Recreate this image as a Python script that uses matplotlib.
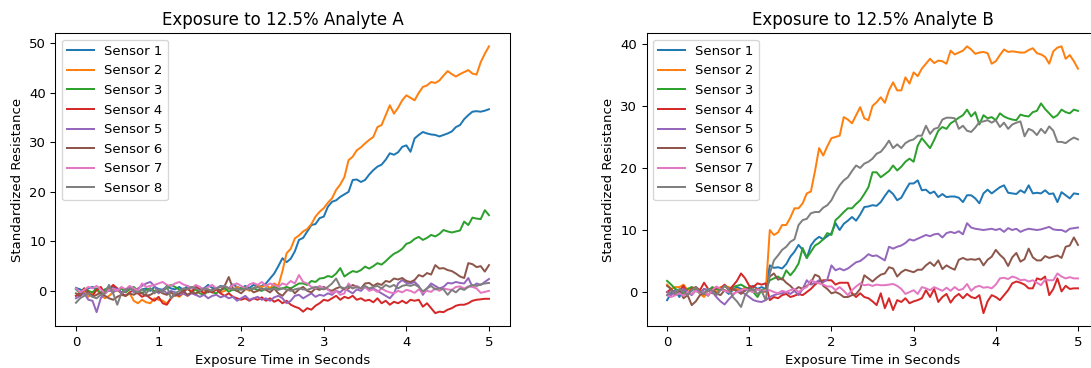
import numpy as np
import matplotlib
matplotlib.use("Agg")
import matplotlib.pyplot as plt

# sampling grid: 101 readings, one every 0.05 s
time_s = np.round(np.arange(101) * 0.05, 2)
sensor_names = [f"Sensor {i}" for i in range(1, 9)]

# ---- exposure to analyte A ----
a_sensor1 = [
    0.6, 0.3, -0.2, 0.5, 0.8, 0.2, -0.5, 0.3, 0.0, 0.8,
    0.5, -0.3, 0.2, 0.6, 0.0, -0.5, 0.3, 0.5, 0.0, 0.8,
    0.4, 0.2, 0.9, 0.5, 0.3, 0.8, 0.2, 1.0, 0.5, 0.8,
    0.3, 0.5, 1.2, 0.6, 0.5, 1.0, 0.8, 0.5, 1.3, 0.8,
    0.5, 1.0, 0.6, 1.2, 0.8, 1.0, 1.5, 2.5, 3.5, 5.0,
    6.6, 5.8, 6.5, 8.0, 10.3, 10.7, 12.0, 13.3, 13.5, 14.7,
    15.0, 17.0, 18.0, 18.3, 19.0, 19.5, 20.0, 22.4, 22.5, 22.0,
    22.4, 23.5, 24.4, 25.1, 25.5, 26.5, 27.8, 27.5, 28.0, 29.1,
    29.4, 28.1, 30.8, 31.5, 32.1, 31.8, 31.6, 31.5, 31.2, 31.5,
    31.8, 32.2, 33.1, 33.5, 34.7, 35.5, 36.2, 36.3, 36.2, 36.4,
    36.7,
]
a_sensor2 = [
    -1.0, -0.5, 0.0, -1.2, -0.5, 0.3, -0.8, -1.5, -1.0, -0.3,
    0.2, -0.5, -1.0, -0.5, -2.0, -2.5, -1.8, -2.3, -2.5, -1.5,
    -1.8, -2.0, -2.5, -1.5, -0.8, -1.2, -0.5, -1.0, -0.3, -0.8,
    0.0, -0.5, 0.3, -0.2, 0.5, -0.3, 0.0, 0.5, 0.2, 0.8,
    0.3, 0.5, 0.0, 0.5, 1.0, 0.8, 1.2, 0.5, 1.5, 1.0,
    4.0, 7.6, 8.5, 10.6, 11.2, 12.0, 12.5, 13.5, 15.0, 16.0,
    16.7, 17.8, 18.7, 20.4, 21.5, 23.0, 26.4, 27.1, 28.4, 29.0,
    29.8, 30.5, 31.1, 33.1, 33.5, 35.5, 37.5, 35.8, 37.0, 38.5,
    39.5, 39.0, 38.5, 40.0, 41.2, 41.5, 42.2, 42.0, 42.5, 43.5,
    44.4, 43.8, 43.3, 43.8, 44.2, 44.6, 43.9, 43.7, 46.2, 47.9,
    49.4,
]
a_sensor3 = [
    0.3, -0.5, 0.5, 0.0, -0.3, 0.5, -0.5, 0.2, 0.8, 0.3,
    0.0, 0.5, -0.3, 0.3, 0.8, 0.0, -0.5, 0.2, 0.5, 0.0,
    -0.3, 0.2, 0.5, 1.2, 0.8, 0.3, 0.0, 0.5, -0.3, 0.3,
    -0.5, -0.8, 0.0, -0.3, -0.5, 0.2, 0.5, -0.2, 0.3, 0.0,
    0.5, 0.8, 0.3, 0.5, 0.2, 0.0, 0.5, 0.3, 0.8, 0.5,
    0.5, 0.8, 0.5, 1.0, 1.5, 1.5, 1.2, 2.0, 1.8, 2.5,
    2.6, 3.0, 2.8, 3.5, 4.6, 2.9, 3.5, 4.0, 3.8, 4.2,
    4.9, 4.5, 5.0, 5.6, 5.3, 6.0, 6.8, 7.5, 7.9, 8.5,
    9.5, 9.8, 10.5, 10.9, 10.3, 10.7, 11.3, 11.0, 11.5, 12.3,
    12.0, 11.8, 12.0, 12.2, 14.0, 13.3, 14.8, 14.6, 14.5, 16.3,
    15.3,
]
a_sensor4 = [
    -1.0, -0.5, 0.5, -0.3, -1.0, 0.2, 0.8, -0.5, 0.3, 1.2,
    0.5, -0.5, -1.0, -0.3, 0.2, -0.5, -1.2, -0.8, -1.5, -2.0,
    -1.2, -2.5, -2.8, -1.5, -0.5, -1.0, -0.3, 0.5, -0.2, 0.8,
    0.3, -0.5, 0.2, -0.3, 0.3, -0.5, -1.0, -0.5, -1.2, -1.5,
    -1.8, -1.5, -2.0, -1.5, -1.8, -1.3, -2.0, -1.5, -2.2, -1.8,
    -2.5, -2.0, -2.8, -3.2, -3.5, -4.2, -3.5, -3.8, -3.0, -2.5,
    -1.8, -2.0, -1.5, -1.0, -1.8, -1.2, -1.5, -1.0, -1.8, -1.5,
    -2.0, -1.8, -2.3, -1.5, -2.5, -2.0, -2.8, -2.2, -2.5, -2.0,
    -2.5, -1.8, -2.0, -1.8, -3.2, -2.5, -3.5, -4.5, -4.2, -4.3,
    -3.8, -3.5, -3.0, -2.8, -2.8, -2.5, -2.0, -1.8, -1.7, -1.6,
    -1.6,
]
a_sensor5 = [
    -1.5, -1.0, -0.5, -1.8, -2.0, -4.3, -1.5, -0.5, 0.2, -0.3,
    0.5, -0.5, 0.0, 0.8, -0.3, 0.5, 1.0, 1.5, 1.8, 1.0,
    -0.5, 0.3, -0.5, 0.0, -0.3, -0.8, -0.5, -1.0, -0.5, -0.8,
    -1.2, -0.8, -1.5, -1.0, -0.8, -1.3, -1.0, -1.5, -1.2, -2.0,
    -1.5, -1.0, -1.8, -1.5, -1.2, -1.8, -1.5, -2.0, -1.3, -1.0,
    -1.5, -2.5, -2.0, -1.0, -0.8, -1.5, -1.0, -0.5, -1.2, -0.8,
    -1.0, -0.5, -0.8, 0.0, -0.3, 0.5, 0.0, -0.5, 0.3, 0.0,
    0.8, 0.3, 0.5, 0.0, -0.5, -1.0, -1.5, -0.5, 1.5, 2.2,
    1.6, 1.5, 1.8, 1.0, -0.8, 0.5, 1.5, 1.0, 0.5, 0.8,
    1.6, 1.5, 1.8, 1.6, 1.5, 2.6, 0.8, 1.5, 1.2, 1.8,
    2.4,
]
a_sensor6 = [
    -0.5, -1.0, 0.3, -0.5, -1.2, -0.8, -0.3, -1.0, -1.5, -1.8,
    -1.2, -0.8, -1.0, -0.5, -0.8, -0.3, -0.5, -1.0, -0.8, -0.3,
    0.0, -0.5, -0.8, -0.3, -1.0, -0.5, 0.0, -0.8, -0.3, -0.5,
    0.0, 0.3, -0.3, 0.2, 0.5, 0.0, 1.0, 2.8, 0.5, 0.0,
    -0.5, 0.3, 0.5, -0.3, 0.0, 0.5, 0.2, -0.3, 0.5, -0.5,
    -1.0, 0.0, 0.5, -0.5, 0.3, 0.8, 0.0, -0.3, 0.5, 0.2,
    0.8, 0.3, 0.0, 0.5, 0.8, 0.3, 0.5, 1.2, 0.8, 0.5,
    1.5, 1.6, 1.0, 1.5, 1.2, 2.0, 1.8, 2.5, 2.3, 2.6,
    2.0, 1.8, 2.2, 3.2, 2.9, 3.6, 3.3, 5.2, 4.5, 4.6,
    4.2, 4.0, 3.5, 2.9, 2.6, 5.6, 5.4, 4.8, 5.0, 3.9,
    5.2,
]
a_sensor7 = [
    0.5, -0.3, 0.2, 0.8, 0.5, 1.0, 0.3, -0.5, 0.2, 0.5,
    0.0, 0.8, 0.3, 1.0, 0.5, 0.0, 1.5, 0.8, 1.0, 1.2,
    1.5, 1.8, 1.2, 1.0, 1.5, 1.8, 1.3, 1.0, 0.5, 1.2,
    0.8, 0.3, 0.8, 1.2, 0.5, 0.8, 1.0, 0.5, 1.2, 1.5,
    1.0, 0.5, 1.3, 1.6, 1.2, 1.8, 1.0, 1.5, 1.2, 0.8,
    1.5, 1.2, 2.0, 1.5, 3.2, 1.8, 1.5, 0.8, 0.5, 1.0,
    0.5, 0.3, -0.5, 0.0, -0.8, -0.5, 1.5, 0.5, 1.0, 0.5,
    0.8, 0.0, 0.3, -0.2, 0.5, 0.0, -0.3, -0.5, 0.0, -0.3,
    0.2, 0.0, -0.4, 0.3, -0.4, 0.0, -0.2, 0.5, 0.0, 0.5,
    0.3, 0.2, 0.8, 0.9, 0.5, 0.9, 0.8, 0.5, -0.4, -0.2,
    0.0,
]
a_sensor8 = [
    -2.4, -1.5, -1.0, -0.5, -1.2, -1.5, -0.8, -0.5, 1.2, -0.5,
    -2.8, -0.5, 0.3, 0.5, 0.0, -0.3, 0.3, -0.5, 0.5, -0.5,
    0.3, -0.3, 1.0, -1.5, -0.5, 0.0, 0.5, 0.3, 0.8, 0.5,
    0.0, 0.5, 0.3, 0.0, 0.5, 0.8, 1.0, 0.5, 0.3, 0.5,
    0.2, 0.5, 0.3, 0.5, 0.8, 0.3, 0.5, 0.3, 0.5, 0.2,
    0.5, 0.3, 0.0, 0.3, 0.5, 0.3, 0.2, 0.5, 0.8, 0.5,
    0.3, 0.8, 1.5, 2.5, 0.8, 0.5, 1.0, 0.5, 0.8, 0.5,
    1.0, 0.5, 0.8, 1.0, 0.5, 1.2, 0.8, 1.2, 0.5, 1.0,
    1.2, 1.0, 1.3, 0.8, -0.1, 0.5, 1.0, 0.3, 0.5, 0.3,
    -0.8, 0.2, -0.3, 0.5, 0.2, 0.8, 1.2, 1.0, 1.3, 1.5,
    1.6,
]

# ---- exposure to analyte B ----
b_sensor1 = [
    -1.3, -0.2, 0.3, -0.8, 0.5, -0.3, 0.2, 0.8, 0.0, -0.5,
    0.3, 0.5, -0.2, 0.6, 0.3, -0.3, 0.3, 0.8, 0.5, 0.2,
    0.7, 1.0, 0.5, 0.8, 0.5, 4.3, 3.9, 4.0, 3.8, 4.5,
    5.7, 6.5, 7.6, 6.8, 5.5, 7.5, 8.4, 8.9, 8.5, 9.0,
    9.5, 11.1, 10.0, 11.0, 11.5, 12.1, 11.5, 12.5, 13.7, 13.8,
    14.0, 13.9, 14.5, 15.5, 16.4, 15.8, 14.8, 15.2, 16.4, 17.5,
    17.5, 18.0, 16.4, 16.5, 15.9, 16.2, 15.3, 15.8, 15.3, 15.4,
    15.4, 15.2, 14.5, 15.6, 15.6, 15.1, 14.3, 15.9, 16.5, 15.9,
    16.4, 16.9, 17.2, 16.0, 15.9, 15.8, 16.4, 16.0, 17.2, 15.9,
    16.0, 15.9, 16.4, 15.8, 15.9, 14.5, 16.1, 15.6, 15.1, 15.9,
    15.8,
]
b_sensor2 = [
    1.2, 0.5, 0.8, 0.8, 1.2, 0.3, 0.8, 0.5, -0.3, -0.8,
    0.3, 0.5, 0.0, 0.8, 1.0, 0.8, 0.3, 0.5, 0.2, 0.8,
    0.5, 0.3, 0.5, 0.2, 0.0, 10.0, 9.2, 9.6, 10.8, 10.8,
    12.0, 13.5, 13.5, 14.3, 15.9, 16.2, 19.5, 23.2, 22.0, 23.5,
    24.8, 25.0, 25.2, 28.2, 27.8, 27.2, 28.5, 29.8, 28.0, 27.7,
    30.0, 30.6, 31.4, 30.5, 32.5, 33.8, 32.5, 32.5, 34.6, 33.6,
    35.4, 34.8, 36.0, 36.8, 37.6, 36.9, 37.3, 37.2, 36.8, 38.9,
    38.3, 38.6, 38.9, 39.6, 39.1, 38.4, 38.6, 38.7, 38.5, 36.8,
    37.2, 38.2, 39.1, 38.7, 38.8, 38.7, 38.6, 38.6, 39.0, 39.3,
    38.5, 38.3, 37.9, 36.8, 38.8, 39.4, 39.6, 37.6, 38.2, 37.2,
    36.0,
]
b_sensor3 = [
    1.8, 1.2, 0.5, 0.2, -0.3, 0.5, 0.8, 0.3, -0.2, 0.5,
    0.2, 0.8, 0.5, 0.3, 1.0, 0.5, 0.8, 1.0, 1.2, 0.8,
    0.3, 0.0, -0.8, 0.3, 0.5, 1.9, 2.2, 2.5, 2.0, 3.5,
    2.7, 3.5, 4.6, 7.1, 5.5, 6.5, 7.5, 7.9, 8.5, 9.5,
    9.2, 11.6, 12.2, 12.9, 13.5, 13.5, 14.2, 14.8, 15.8, 16.9,
    19.3, 19.3, 18.5, 19.0, 19.5, 20.4, 19.6, 20.2, 21.0, 21.5,
    21.0, 23.6, 24.8, 24.0, 23.2, 24.5, 26.0, 26.6, 26.3, 27.2,
    27.6, 28.1, 28.5, 29.4, 28.3, 29.0, 27.0, 28.5, 28.0, 28.2,
    27.7, 28.8, 28.3, 28.0, 27.8, 27.7, 28.6, 28.4, 28.3, 29.0,
    29.2, 30.4, 29.5, 28.8, 28.1, 28.5, 29.4, 29.0, 28.8, 29.4,
    29.2,
]
b_sensor4 = [
    0.0, 0.5, -0.5, 0.2, 1.0, -0.3, 0.5, 0.8, 0.3, 1.5,
    0.5, -0.2, 0.8, 0.5, 1.2, 0.3, 1.0, 1.8, 3.0, 2.2,
    1.0, 0.8, 1.4, 1.2, 1.4, -1.3, -0.8, -1.0, -0.5, -0.3,
    -0.8, -0.6, -0.3, -0.5, 0.0, 0.5, 1.2, 1.7, 1.9, 1.9,
    1.9, 1.2, 1.5, 1.5, 1.5, -0.2, -0.8, -0.2, -0.8, -1.0,
    -1.5, -2.1, -0.2, -2.6, -1.0, -2.9, -1.3, -1.6, -1.0, -1.8,
    -1.5, -1.3, -1.0, 0.3, -0.8, 0.5, -1.6, -0.8, -0.3, -1.7,
    -0.8, -0.3, -1.0, -0.3, -0.8, -1.0, -0.5, -3.4, -1.5, -0.5,
    -0.8, -1.3, -0.5, 0.3, 1.4, 1.7, 1.5, 1.2, 0.6, 0.6,
    2.2, 2.0, 2.5, -0.5, 0.5, 2.2, 0.1, 1.0, 0.5, 0.6,
    0.6,
]
b_sensor5 = [
    0.0, -0.5, 0.2, -0.3, 0.5, 0.0, -0.5, 0.3, -0.2, 0.5,
    0.3, 0.0, -0.8, -1.5, -2.0, -1.2, -0.5, 0.2, 0.0, -0.3,
    -0.8, -1.3, -1.5, -1.6, -1.3, -0.8, -0.5, -0.3, -0.2, 0.0,
    -0.3, 0.2, -0.5, 0.5, 1.9, 1.2, 1.5, 1.9, 1.6, 2.0,
    4.3, 3.5, 3.8, 3.5, 3.8, 4.3, 4.8, 5.0, 5.5, 6.1,
    5.8, 5.9, 5.5, 5.1, 7.3, 7.0, 7.3, 7.5, 7.9, 8.5,
    8.3, 8.6, 8.9, 9.2, 9.0, 9.3, 9.4, 8.8, 9.5, 9.7,
    9.5, 9.8, 9.3, 11.1, 10.4, 10.2, 10.1, 10.0, 10.1, 10.2,
    10.0, 10.2, 9.7, 10.3, 10.0, 10.2, 9.7, 10.0, 10.2, 10.1,
    10.0, 10.1, 10.3, 10.5, 10.1, 10.0, 10.0, 9.7, 10.2, 10.3,
    10.4,
]
b_sensor6 = [
    1.0, 0.5, -0.5, 0.3, -1.0, -0.5, -2.1, -1.5, -0.5, 0.0,
    -0.6, 0.5, -0.2, -0.5, 0.3, 0.0, 0.5, 0.2, -0.3, 0.3,
    0.8, 0.2, 0.5, 0.0, 0.2, 2.5, 3.0, 2.0, 2.2, 1.5,
    1.0, 0.3, 0.8, 0.5, 1.0, 1.5, 2.8, 2.5, 1.0, 0.5,
    -0.2, 0.0, -0.3, -0.8, -0.8, -0.5, -0.3, 0.5, 2.7, 2.2,
    1.7, 2.3, 2.8, 3.0, 4.0, 3.8, 2.5, 3.2, 3.6, 3.4,
    3.2, 3.6, 3.6, 4.3, 4.8, 4.2, 5.1, 3.7, 4.3, 3.9,
    3.6, 5.2, 5.5, 5.2, 5.3, 5.2, 5.4, 4.3, 5.2, 5.7,
    6.8, 6.0, 5.4, 4.2, 5.6, 6.3, 4.9, 5.3, 7.0, 5.6,
    5.1, 5.1, 5.8, 5.5, 5.7, 5.9, 5.5, 7.3, 7.5, 8.8,
    7.6,
]
b_sensor7 = [
    -0.5, -0.8, -0.5, -0.2, -0.6, 0.0, -0.3, 0.2, -0.2, 0.0,
    -0.5, 0.3, 0.9, 0.5, 0.2, 0.0, -0.3, 0.0, 0.3, 0.5,
    0.2, 0.0, 0.4, 0.2, 0.3, 0.3, 0.0, -0.2, 0.2, 0.0,
    0.3, 0.5, 0.0, 0.5, 0.8, 1.9, 1.6, 1.4, 1.2, 0.9,
    0.9, 0.3, 0.8, 0.2, -0.5, 0.3, 0.9, 1.4, 1.1, 1.2,
    1.0, 1.2, 1.1, 1.1, 1.2, 1.3, 1.0, 0.5, -0.3, 0.0,
    0.3, -0.3, 0.8, 0.6, 0.3, 0.8, 0.5, 0.2, 0.7, 0.2,
    0.8, 0.3, 0.5, 1.3, 0.2, 0.8, 1.0, 0.7, 0.8, 0.6,
    1.2, 2.2, 2.3, 2.1, 2.5, 2.3, 1.9, 2.0, 1.7, 1.9,
    1.5, 1.1, 2.0, 1.9, 1.9, 3.0, 2.5, 2.2, 2.4, 2.2,
    2.2,
]
b_sensor8 = [
    -0.5, 0.2, -0.3, 0.5, 0.0, -0.5, 0.3, 0.8, 0.0, -0.3,
    0.5, 0.2, -0.5, 0.3, 1.0, 0.5, -0.8, -1.5, -2.4, -0.5,
    0.3, 0.5, -0.3, 0.2, -1.3, 3.0, 5.1, 5.9, 6.8, 7.3,
    8.1, 8.5, 10.8, 11.6, 11.8, 12.7, 12.9, 12.9, 13.6, 14.0,
    14.8, 16.1, 17.2, 18.0, 18.5, 19.5, 20.4, 20.0, 20.7, 21.0,
    21.5, 22.3, 22.6, 23.4, 24.4, 23.2, 23.8, 23.2, 24.0, 24.4,
    24.6, 25.2, 25.2, 26.8, 25.5, 26.3, 26.5, 27.8, 28.1, 28.1,
    28.0, 26.3, 26.8, 26.0, 25.8, 26.5, 27.4, 27.5, 27.7, 27.3,
    27.7, 26.6, 27.3, 26.3, 27.0, 27.3, 27.5, 25.1, 26.3, 26.0,
    25.3, 26.3, 25.6, 26.7, 26.0, 24.2, 24.2, 24.0, 24.5, 24.9,
    24.6,
]

analyte_a = [a_sensor1, a_sensor2, a_sensor3, a_sensor4,
             a_sensor5, a_sensor6, a_sensor7, a_sensor8]
analyte_b = [b_sensor1, b_sensor2, b_sensor3, b_sensor4,
             b_sensor5, b_sensor6, b_sensor7, b_sensor8]

DPI = 95


def plot_panel(ax, series, title):
    for name, values in zip(sensor_names, series):
        assert len(values) == len(time_s), name
        ax.plot(time_s, values, label=name)
    ax.set_title(title, fontsize=12.6)
    ax.set_xlabel("Exposure Time in Seconds")
    ax.set_ylabel("Standardized Resistance")
    ax.legend(loc="upper left")


def main():
    fig = plt.figure(figsize=(1091 / DPI, 368 / DPI), dpi=DPI)
    ax_a = fig.add_axes([0.0507, 0.1128, 0.4164, 0.7975])
    ax_b = fig.add_axes([0.5926, 0.1128, 0.4143, 0.7975])

    plot_panel(ax_a, analyte_a, "Exposure to 12.5% Analyte A")
    plot_panel(ax_b, analyte_b, "Exposure to 12.5% Analyte B")

    fig.savefig("out.png", dpi=DPI)


if __name__ == "__main__":
    main()
